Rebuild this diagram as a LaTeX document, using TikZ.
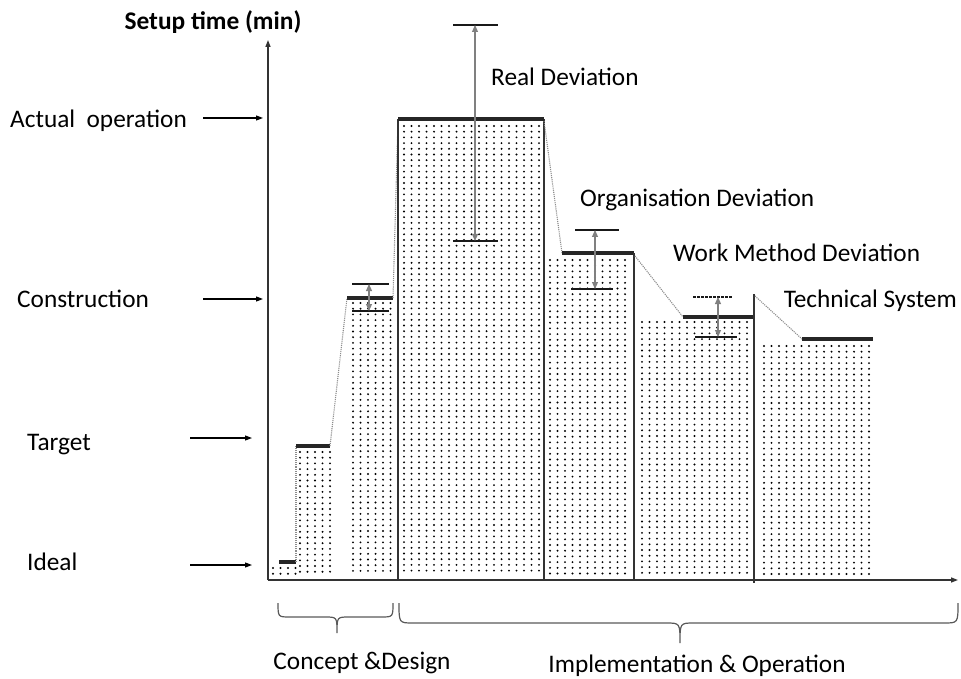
\documentclass[tikz,border=0pt]{standalone}
\usepackage{fontspec}
\setmainfont{Carlito}
\usetikzlibrary{arrows.meta}

% dotted fill: #1,#2 first dot, #3 last column index, #4 last row index
\newcommand\dotarea[4]{%
  \foreach \i in {0,...,#3}{%
    \foreach \j in {0,...,#4}{%
      \fill[dotc] ({#1+7.5*\i},{#2+5.7*\j}) circle (1.05pt);
    }%
  }%
}

\begin{document}
\begin{tikzpicture}[x=1pt,y=-1pt,
  dotc/.style={fill=black},
  axisline/.style={line width=1.3pt, draw=black!80, -{Triangle[length=7pt,width=5pt]}},
  levelbar/.style={line width=3.2pt, draw=black!85},
  barside/.style={line width=1.2pt, draw=black!80},
  slant/.style={line width=1.1pt, draw=black!45, densely dotted},
  tickline/.style={line width=1.1pt, draw=black!90},
  dashtick/.style={line width=1.1pt, draw=black!90, dash pattern=on 2.5pt off 1.5pt},
  devarrow/.style={line width=1.1pt, draw=black!50,
    {Triangle[length=7pt,width=6pt]}-{Triangle[length=7pt,width=6pt]}},
  pointer/.style={line width=1.1pt, draw=black, -{Triangle[length=7pt,width=5pt]}},
  brace/.style={line width=1.2pt, draw=black!65},
  txt/.style={font=\fontsize{25.3}{29}\selectfont, inner sep=0pt},
  lbl/.style={txt, anchor=base west},
]
\useasboundingbox (0,0) rectangle (961,679);

% ---- dotted areas under each level
\dotarea{273}{568}{3}{1}
\dotarea{300}{452}{4}{21}
\dotarea{353}{303}{5}{47}
\dotarea{404}{126}{18}{78}
\dotarea{550}{260}{10}{55}
\dotarea{642}{322}{14}{44}
\dotarea{764}{346}{14}{40}

% ---- axes
\coordinate (origin) at (268,580);
\coordinate (ytop) at (268,40);
\coordinate (xend) at (958,580);
\draw[axisline] (origin) -- (ytop);
\draw[axisline] (origin) -- (xend);
\node[font=\fontsize{25.4}{29}\selectfont\bfseries, inner sep=0pt, anchor=base] (ylabel) at (213,30) {Setup time (min)};

% ---- level labels with pointers
\node[lbl] (lact) at (10,128) {Actual~ operation};
\node[lbl] (lcon) at (17,307) {Construction};
\node[lbl] (ltar) at (27,450) {Target};
\node[lbl] (lide) at (27,570) {Ideal};
\coordinate (pact0) at (203,118); \coordinate (pact1) at (263,118);
\coordinate (pcon0) at (203,299); \coordinate (pcon1) at (263,299);
\coordinate (ptar0) at (190,438); \coordinate (ptar1) at (252,438);
\coordinate (pide0) at (190,565); \coordinate (pide1) at (252,565);
\draw[pointer] (pact0) -- (pact1);
\draw[pointer] (pcon0) -- (pcon1);
\draw[pointer] (ptar0) -- (ptar1);
\draw[pointer] (pide0) -- (pide1);

% ---- ideal and target levels
\draw[levelbar] (279,562) -- (296,562);
\draw[slant] (296,562) -- (296,446);
\draw[levelbar] (296,446) -- (330,446);
\draw[slant] (330,446) -- (347,298);

% ---- construction level
\draw[levelbar] (347,298) -- (393,298);
\draw[slant] (393,298) -- (398,120);
\coordinate (cdA) at (369,284); \coordinate (cdB) at (369,311);
\draw[tickline] (352,284) -- (389,284);
\draw[tickline] (352,311) -- (389,311);
\draw[devarrow] (cdA) -- (cdB);

% ---- actual operation level
\draw[barside] (398,119) -- (398,580);
\draw[barside] (544,119) -- (544,580);
\draw[levelbar] (398,119) -- (544,119);
\draw[slant] (544,121) -- (562,253);
\coordinate (rdA) at (475,25); \coordinate (rdB) at (475,241);
\draw[tickline] (453,25) -- (498,25);
\draw[tickline] (453,241) -- (498,241);
\draw[devarrow] (rdA) -- (rdB);
\node[lbl] (treal) at (491,86) {Real Deviation};

% ---- organisation level
\draw[levelbar] (562,253) -- (634,253);
\draw[barside] (634,253) -- (634,580);
\draw[slant] (635,256) -- (683,317);
\coordinate (odA) at (595,230); \coordinate (odB) at (595,289);
\draw[tickline] (575,230) -- (619,230);
\draw[tickline] (571,289) -- (613,289);
\draw[devarrow] (odA) -- (odB);
\node[lbl] (torg) at (580,207) {Organisation Deviation};

% ---- work method level
\draw[levelbar] (683,317) -- (754,317);
\draw[barside] (754,294) -- (754,583);
\draw[slant] (755,296) -- (802,339);
\coordinate (wdA) at (718,297); \coordinate (wdB) at (718,337);
\draw[dashtick] (693,297) -- (732,297);
\draw[tickline] (695,337) -- (737,337);
\draw[devarrow] (wdA) -- (wdB);
\node[lbl] (twork) at (673,261) {Work Method Deviation};

% ---- technical system level
\draw[levelbar] (802,339) -- (873,339);
\node[txt, anchor=base east] (ttech) at (957,307) {Technical System};

% ---- phase braces
\draw[brace] (278,603) .. controls (278,617) .. (290,617) -- (325,617)
  .. controls (337,617) .. (337,633) .. controls (337,617) .. (349,617)
  -- (381,617) .. controls (393,617) .. (393,603);
\draw[brace] (399,603) .. controls (399,623) .. (413,623) -- (666,623)
  .. controls (680,623) .. (680,643) .. controls (680,623) .. (694,623)
  -- (944,623) .. controls (958,623) .. (958,603);
\node[txt, anchor=base] (tcon) at (362,669) {Concept \&Design};
\node[txt, anchor=base] (timp) at (697,672) {Implementation \& Operation};
\end{tikzpicture}
\end{document}
